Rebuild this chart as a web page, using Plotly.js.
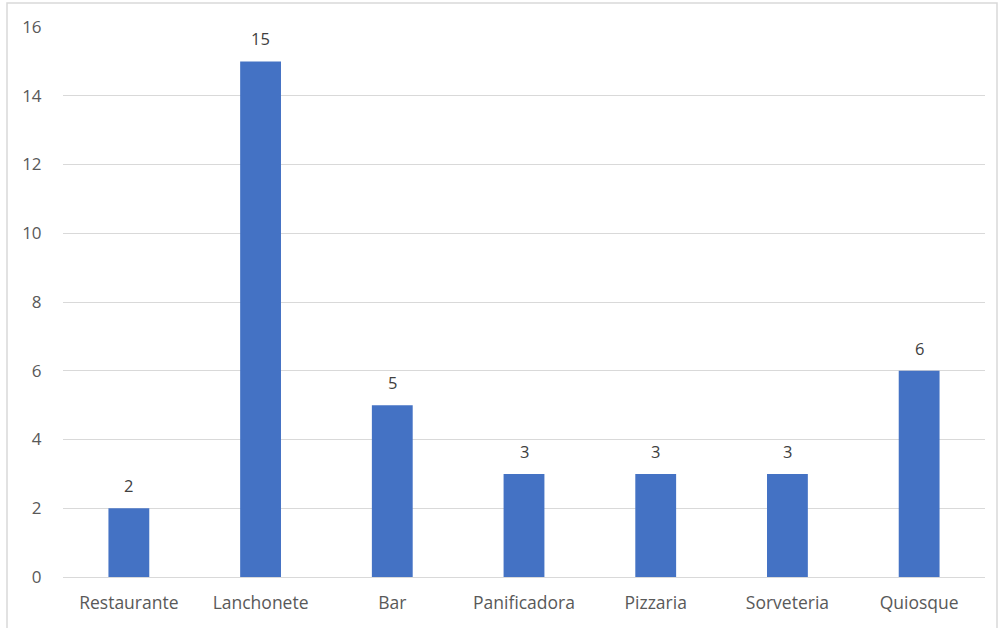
<!DOCTYPE html>
<html>
<head>
<meta charset="utf-8">
<script src="https://cdn.plot.ly/plotly-3.0.1.min.js"></script>
<style>html,body{margin:0;padding:0;background:#fff;}#chart{width:998px;height:628px;}</style>
</head>
<body>
<div id="chart"></div>
<script>
var categories = ["Restaurante", "Lanchonete", "Bar", "Panificadora", "Pizzaria", "Sorveteria", "Quiosque"];
var counts = [2, 15, 5, 3, 3, 3, 6];
var yTicks = [0, 2, 4, 6, 8, 10, 12, 14, 16];

var fontFam = "'Open Sans', 'Noto Sans', 'Liberation Sans', sans-serif";

var trace = {
  type: "bar",
  x: categories,
  y: counts,
  marker: {color: "#4472C4"},
  hoverinfo: "x+y"
};

var annotations = categories.map(function (c, i) {
  return {
    x: c, y: counts[i], xref: "x", yref: "y",
    text: String(counts[i]), showarrow: false,
    yanchor: "bottom", yshift: 9,
    font: {family: fontFam, size: 16.5, color: "#404040"}
  };
});

var layout = {
  width: 998, height: 628,
  margin: {l: 63, r: 13, t: 27, b: 51},
  paper_bgcolor: "#ffffff",
  plot_bgcolor: "#ffffff",
  bargap: 0.69,
  showlegend: false,
  font: {family: fontFam, size: 17, color: "#595959"},
  xaxis: {
    type: "category",
    showgrid: false,
    showline: true, linecolor: "#d9d9d9", linewidth: 1,
    ticks: "outside", ticklen: 10, tickcolor: "rgba(0,0,0,0)",
    tickfont: {family: fontFam, size: 17.5, color: "#595959"}
  },
  yaxis: {
    range: [0, 16],
    tickvals: yTicks,
    ticktext: yTicks.map(String),
    showgrid: true, gridcolor: "#d9d9d9", gridwidth: 1,
    zeroline: false, showline: false,
    ticks: "outside", ticklen: 17, tickcolor: "rgba(0,0,0,0)",
    tickfont: {family: fontFam, size: 17, color: "#595959"}
  },
  annotations: annotations,
  shapes: [{
    type: "rect", xref: "paper", yref: "paper",
    x0: (7 - 63) / 922, x1: (997 - 63) / 922,
    y0: -0.2, y1: (577 - 3) / 550,
    line: {color: "#d9d9d9", width: 1.5},
    fillcolor: "rgba(0,0,0,0)", layer: "below"
  }]
};

Plotly.newPlot("chart", [trace], layout, {displayModeBar: false, staticPlot: true});
</script>
</body>
</html>
